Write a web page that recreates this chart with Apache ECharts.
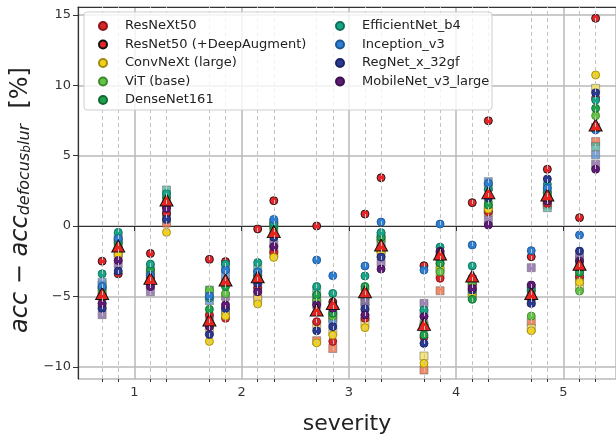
<!DOCTYPE html>
<html>
<head>
<meta charset="utf-8">
<title>severity</title>
<script src="https://cdn.jsdelivr.net/npm/echarts@6/dist/echarts.min.js"></script>
</head>
<body style="margin:0">
<div id="container" style="width:616px;height:435px"></div>
<script>
// x positions of the columns (severity 1..5, four sub-columns each)
var xPos = [0.7, 0.85, 1.15, 1.3, 1.7, 1.85, 2.15, 2.3, 2.7, 2.85, 3.15, 3.3, 3.7, 3.85, 4.15, 4.3, 4.7, 4.85, 5.15, 5.3];

var models = ['ResNeXt50', 'ResNet50 (+DeepAugment)', 'ConvNeXt (large)', 'ViT (base)', 'DenseNet161',
              'EfficientNet_b4', 'Inception_v3', 'RegNet_x_32gf', 'MobileNet_v3_large'];

// circles, one value per column
var resnext50   = [-4.9, -1.8, -3.7, 1.3, -6.3, -6.56, -4.4, -1.9, -6.8, -8.2, -6.56, -1.7, -7.9, -3.72, -4.2, 1.02, -5.14, 1.6, -3.6, 9.1];
var resnet50da  = [-2.5, -3.4, -1.95, 0.9, -2.37, -2.53, -0.21, 1.8, 0.0, -5.4, 0.85, 3.43, -2.82, -2.2, 1.66, 7.48, -2.18, 4.03, 0.59, 14.76];
var convnext    = [-5.2, -2.0, -3.9, -0.45, -8.2, -6.4, -5.54, -2.23, -8.3, -7.75, -7.22, -1.9, -9.76, -3.0, -5.0, 1.2, -7.44, 1.9, -4.0, 10.73];
var vit         = [-4.6, -1.5, -3.3, 1.7, -4.55, -4.8, -3.8, -0.2, -5.3, -6.4, -4.5, -1.0, -7.0, -3.25, -4.0, 1.7, -6.4, 2.2, -4.62, 7.84];
var densenet    = [-4.4, -1.2, -3.1, 2.0, -5.92, -4.3, -3.5, 0.0, -4.9, -6.2, -4.3, -0.8, -7.75, -2.65, -5.21, 1.49, -4.6, 2.4, -3.3, 8.36];
var efficientnet = [-3.4, -0.45, -2.7, 2.3, -5.1, -2.7, -2.6, 0.2, -4.3, -4.79, -3.55, -0.47, -5.97, -1.5, -2.84, 2.6, -4.4, 2.96, -2.9, 8.95];
var inception   = [-4.3, -0.9, -3.5, 1.6, -4.97, -3.13, -3.25, 0.47, -2.42, -3.53, -2.84, 0.28, -3.13, 0.14, -1.35, 3.03, -1.75, 2.7, -0.64, 6.82];
var regnet      = [-5.85, -3.2, -4.05, 0.47, -7.7, -5.85, -4.07, -0.8, -7.44, -7.15, -5.9, -2.2, -8.34, -2.1, -4.55, 2.0, -5.5, 3.34, -1.78, 9.47];
var mobilenet   = [-5.5, -2.45, -4.3, 1.25, -7.15, -5.6, -4.67, -1.47, -5.6, -5.85, -6.33, -3.06, -6.44, -1.8, -4.43, 0.07, -4.19, 1.78, -2.5, 4.03];

// squares (second variant of some models)
var sqResnext   = [-5.7, -2.1, -4.2, 0.2, -7.0, -6.0, -5.0, -1.6, -8.15, -8.7, -6.5, -2.0, -10.23, -4.6, -4.6, 1.1, -6.8, 1.5, -3.8, 6.0];
var sqConvnext  = [-5.0, -1.9, -4.0, 0.5, -7.5, -6.2, -5.2, -2.0, -7.0, -7.5, -6.9, -1.6, -9.24, -3.4, -5.0, 1.0, -7.27, 1.7, -4.3, 9.78];
var sqDensenet  = [-4.6, -1.0, -3.4, 2.2, -5.0, -4.0, -3.8, -0.5, -5.14, -6.0, -5.38, -0.9, -7.2, -2.9, -4.8, 1.3, -5.4, 1.6, -3.6, 7.0];
var sqEffnet    = [-4.2, -0.8, -3.0, 2.56, -4.55, -3.0, -3.0, 0.1, -4.6, -6.56, -5.0, -0.7, -6.2, -2.4, -4.3, 2.8, -5.0, 1.3, -3.0, 5.64];
var sqInception = [-4.0, -1.2, -3.6, 1.5, -5.3, -3.5, -3.4, 0.2, -5.3, -6.8, -5.8, -1.2, -7.0, -2.2, -3.8, 3.15, -4.4, 2.5, -2.4, 5.05];
var sqMobilenet = [-6.3, -2.7, -4.67, 0.8, -6.6, -5.0, -4.4, -1.2, -5.6, -6.3, -5.38, -2.6, -5.5, -2.0, -4.1, 0.43, -2.96, 1.9, -2.18, 4.38];

// mean per column (triangles)
var means = [-4.8, -1.42, -3.72, 1.85, -6.68, -3.84, -3.6, -0.4, -5.97, -5.5, -4.67, -1.35, -6.99, -1.99, -3.55, 2.37, -4.79, 2.2, -2.72, 7.18];

var circleData = [resnext50, resnet50da, convnext, vit, densenet, efficientnet, inception, regnet, mobilenet];
var circleStyle = [
  ['#d7262b', '#8a1518'], ['#e8262a', '#111111'], ['#f2d21b', '#a08a10'],
  ['#62c346', '#3f8a2a'], ['#1fa24c', '#136a30'], ['#17a688', '#0e6e5a'],
  ['#2d7fd3', '#1c5694'], ['#2b3a92', '#1a2460'], ['#5e1b76', '#3c104d']
];
var squareData = [sqResnext, sqConvnext, sqDensenet, sqEffnet, sqInception, sqMobilenet];
var squareColor = ['#f26a3f', '#f2e05a', '#5cbf6a', '#4fb5a0', '#5a8fd0', '#8a66a8'];

function pts(vals) { return xPos.map(function (x, i) { return [x, vals[i]]; }); }

var FONT = 'DejaVu Sans';
var xMin = 0.475, xMax = 5.49;

var series = [];
// dashed column guides
series.push({
  type: 'line', data: [], z: 1, silent: true,
  markLine: {
    silent: true, symbol: ['none', 'none'], animation: false,
    label: { show: false },
    lineStyle: { type: [4, 3], color: '#c2c2c2', width: 1 },
    data: xPos.map(function (x) { return { xAxis: x }; })
  }
});
squareData.forEach(function (d, i) {
  series.push({
    name: 'sq' + i, type: 'scatter', symbol: 'rect', symbolSize: 8, z: 2,
    itemStyle: { color: squareColor[i], opacity: 0.8, borderColor: '#6a6a6a', borderWidth: 0.7 },
    data: pts(d)
  });
});
circleData.forEach(function (d, i) {
  series.push({
    name: models[i], type: 'scatter', symbol: 'circle', symbolSize: 8, z: 2,
    itemStyle: { color: circleStyle[i][0], borderColor: circleStyle[i][1], borderWidth: 0.9, opacity: 1 },
    data: pts(d)
  });
});
series.push({
  name: 'mean', type: 'scatter', symbol: 'triangle', symbolSize: [13, 12], z: 3,
  itemStyle: { color: '#e8241f', borderColor: '#111', borderWidth: 1, opacity: 1 },
  data: pts(means)
});

var legendCommon = {
  orient: 'vertical', icon: 'circle', itemWidth: 34, itemHeight: 8, itemGap: 4.5,
  selectedMode: false, zlevel: 1, z: 5, top: 14,
  textStyle: { fontFamily: FONT, fontSize: 13, color: '#222', lineHeight: 14 }
};

var option = {
  animation: false,
  textStyle: { fontFamily: FONT },
  grid: { left: 78, right: 0, top: 7, bottom: 56, outerBoundsMode: 'none', containLabel: false },
  legend: [
    Object.assign({ left: 93, data: models.slice(0, 5) }, legendCommon),
    Object.assign({ left: 330, data: models.slice(5) }, legendCommon)
  ],
  graphic: [{
    type: 'rect', zlevel: 1, z: 4, silent: true,
    shape: { x: 84, y: 12, width: 408, height: 98, r: 3 },
    style: { fill: 'rgba(255,255,255,0.8)', stroke: '#cfcfcf', lineWidth: 1 }
  }],
  xAxis: [{
    type: 'value', min: xMin, max: xMax, position: 'bottom',
    name: 'severity', nameLocation: 'middle', nameGap: 34,
    nameTextStyle: { fontFamily: FONT, fontSize: 22, color: '#222' },
    axisLine: { lineStyle: { color: '#333', width: 1.2 } },
    axisTick: { length: 5, lineStyle: { color: '#333' } },
    axisLabel: { showMinLabel: false, showMaxLabel: false, fontSize: 13, color: '#333', margin: 7 },
    splitLine: { show: true, lineStyle: { color: '#b8b8b8', width: 1.5 } }
  }, {
    type: 'value', min: xMin, max: xMax, position: 'top',
    axisLine: { show: true, onZero: false, lineStyle: { color: '#333', width: 1.2 } },
    axisTick: { show: false }, axisLabel: { show: false }, splitLine: { show: false }
  }, {
    type: 'value', min: xMin, max: xMax, position: 'bottom',
    axisLine: { show: false },
    axisTick: { show: true, length: 3, customValues: xPos, lineStyle: { color: '#333' } },
    axisLabel: { show: false }, splitLine: { show: false }
  }],
  yAxis: {
    type: 'value', min: -10.87, max: 15.56,
    name: '{a|acc − acc}{s|defocus}{t|b}{s|lur}{p|  [%]}',
    nameLocation: 'middle', nameRotate: 90, nameGap: 24,
    nameTextStyle: {
      color: '#222', padding: [0, 14, 0, 0],
      rich: {
        a: { fontFamily: FONT, fontSize: 24, fontStyle: 'italic', lineHeight: 30, verticalAlign: 'bottom', color: '#222' },
        s: { fontFamily: FONT, fontSize: 16, fontStyle: 'italic', lineHeight: 14, verticalAlign: 'bottom', color: '#222' },
        t: { fontFamily: FONT, fontSize: 12, fontStyle: 'italic', lineHeight: 8, verticalAlign: 'bottom', color: '#222' },
        p: { fontFamily: FONT, fontSize: 24, lineHeight: 30, verticalAlign: 'bottom', color: '#222' }
      }
    },
    axisLine: { show: true, lineStyle: { color: '#333', width: 1.2 } },
    axisTick: { show: true, length: 5, lineStyle: { color: '#333' } },
    axisLabel: {
      showMinLabel: false, showMaxLabel: false, fontSize: 13, color: '#333', margin: 7,
      formatter: function (v) { return String(v).replace('-', '\u2212'); }
    },
    splitLine: { show: true, lineStyle: { color: '#b8b8b8', width: 1.5 } }
  },
  series: series
};

var myChart = echarts.init(document.getElementById('container'));
myChart.setOption(option);
</script>
</body>
</html>
